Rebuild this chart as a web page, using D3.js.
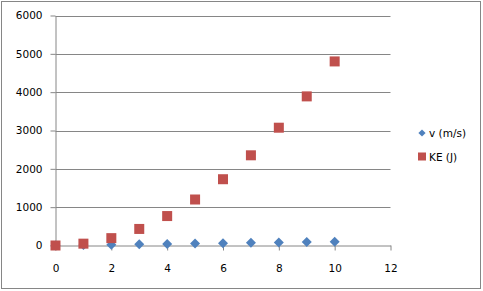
<!DOCTYPE html>
<html>
<head>
<meta charset="utf-8">
<script src="https://cdn.jsdelivr.net/npm/d3@7"></script>
<style>
  body { margin: 0; background: #fff; }
  text { font-family: "DejaVu Sans", sans-serif; font-size: 10.5px; fill: #000; }
</style>
</head>
<body>
<div id="chart"></div>
<script>
// time values (x)
const times = [0, 1, 2, 3, 4, 5, 6, 7, 8, 9, 10];
// series values
const velocity = [0, 9.8, 19.6, 29.4, 39.2, 49, 58.8, 68.6, 78.4, 88.2, 98];
const kinetic = [0, 48, 192, 432, 768, 1200, 1729, 2353, 3073, 3890, 4802];
// axis ticks
const xTicks = [0, 2, 4, 6, 8, 10, 12];
const yTicks = [0, 1000, 2000, 3000, 4000, 5000, 6000];
const seriesNames = ["v (m/s)", "KE (J)"];

const W = 483, H = 291;
const plot = {left: 55.5, right: 390.5, top: 15.5, bottom: 245.5};

let svg = d3.select("#chart")
  .append("svg")
  .attr("width", W)
  .attr("height", H);

// chart border
svg.append("rect")
  .attr("x", 1.5).attr("y", 1.5)
  .attr("width", 479).attr("height", 287)
  .attr("fill", "#fff")
  .attr("stroke", "#868686");

let x = d3.scaleLinear().domain([0, 12]).range([plot.left, plot.right]);
let y = d3.scaleLinear().domain([0, 6000]).range([plot.bottom, plot.top]);

// horizontal gridlines
svg.append("g")
  .selectAll("line")
  .data(yTicks.filter(d => d > 0))
  .join("line")
  .attr("x1", plot.left).attr("x2", plot.right)
  .attr("y1", d => Math.round(y(d)) + 0.5)
  .attr("y2", d => Math.round(y(d)) + 0.5)
  .attr("stroke", "#868686");

// y axis
let yAxis = svg.append("g")
  .attr("transform", `translate(${plot.left},0)`)
  .call(d3.axisLeft(y).tickValues(yTicks).tickFormat(d3.format("d"))
    .tickSize(5).tickPadding(8).tickSizeOuter(0));

// x axis
let xAxis = svg.append("g")
  .attr("transform", `translate(0,${plot.bottom})`)
  .call(d3.axisBottom(x).tickValues(xTicks).tickFormat(d3.format("d"))
    .tickSize(5).tickPadding(14).tickSizeOuter(0));

[yAxis, xAxis].forEach(a => {
  a.select(".domain").attr("stroke", "#868686");
  a.selectAll(".tick line").attr("stroke", "#868686");
  a.selectAll(".tick text")
    .attr("fill", "#000")
    .style("font-family", "DejaVu Sans, sans-serif")
    .style("font-size", "10.5px");
});

// v (m/s) diamonds
let diamond = d3.symbol().type(d3.symbolSquare).size(50);
svg.append("g")
  .selectAll("path")
  .data(times.map((t, i) => [t, velocity[i]]))
  .join("path")
  .attr("d", diamond)
  .attr("transform", d => `translate(${x(d[0])},${y(d[1])}) rotate(45)`)
  .attr("fill", "#4F81BD");

// KE (J) squares
svg.append("g")
  .selectAll("rect")
  .data(times.map((t, i) => [t, kinetic[i]]))
  .join("rect")
  .attr("x", d => x(d[0]) - 5)
  .attr("y", d => y(d[1]) - 5)
  .attr("width", 10).attr("height", 10)
  .attr("fill", "#C0504D");

// legend
let legend = svg.append("g");
legend.append("path")
  .attr("d", d3.symbol().type(d3.symbolSquare).size(26))
  .attr("transform", "translate(422,133) rotate(45)")
  .attr("fill", "#4F81BD");
legend.append("text")
  .attr("x", 429).attr("y", 137)
  .text(seriesNames[0]);
legend.append("rect")
  .attr("x", 418).attr("y", 152.5)
  .attr("width", 8).attr("height", 8)
  .attr("fill", "#C0504D");
legend.append("text")
  .attr("x", 429).attr("y", 160.5)
  .text(seriesNames[1]);
</script>
</body>
</html>
